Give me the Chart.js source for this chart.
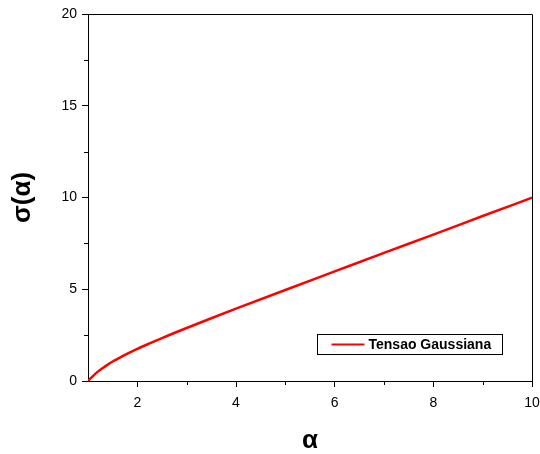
<!DOCTYPE html>
<html>
<head>
<meta charset="utf-8">
<script src="https://cdn.jsdelivr.net/npm/chart.js@4.4.1/dist/chart.umd.min.js"></script>
<style>
  html, body { margin: 0; padding: 0; background: #fff; }
  #wrap { width: 540px; height: 454px; position: relative; }
</style>
</head>
<body>
<div id="wrap"><canvas id="c" width="540" height="454"></canvas></div>
<script>
// Gaussian tension curve sigma(alpha)
const alphaValues = [1, 1.05, 1.1, 1.2, 1.3, 1.4, 1.5, 1.6, 1.8, 2, 2.25, 2.5, 3, 3.5, 4, 5, 6, 7, 8, 9, 10];
const sigmaValues = [0, 0.14, 0.27, 0.51, 0.71, 0.89, 1.06, 1.21, 1.49, 1.75, 2.05, 2.34, 2.89, 3.42, 3.94, 4.96, 5.97, 6.98, 7.98, 8.99, 9.99];
const seriesLabel = 'Tensao Gaussiana';
const xTitle = 'α';
const yTitle = 'σ(α)';
const xRange = [1, 10];
const yRange = [0, 20];

const FONT = '"Liberation Sans", Arial, sans-serif';

// Short minor ticks, top/right frame and an inset legend box
const decorations = {
  id: 'decorations',
  afterDraw(chart) {
    const { ctx, chartArea: a, scales: { x, y } } = chart;
    ctx.save();
    ctx.strokeStyle = '#000';
    ctx.lineWidth = 1;
    // frame
    ctx.beginPath();
    ctx.moveTo(a.left, a.top + 0.5);
    ctx.lineTo(a.right + 0.5, a.top + 0.5);
    ctx.lineTo(a.right + 0.5, a.bottom);
    ctx.stroke();
    // minor ticks
    ctx.beginPath();
    x.ticks.forEach(t => {
      if (t.value % 2 !== 0 && t.value !== xRange[0]) {
        const px = Math.round(x.getPixelForValue(t.value)) + 0.5;
        ctx.moveTo(px, a.bottom);
        ctx.lineTo(px, a.bottom + 4);
      }
    });
    y.ticks.forEach(t => {
      if (t.value % 5 !== 0) {
        const py = Math.round(y.getPixelForValue(t.value)) + 0.5;
        ctx.moveTo(a.left, py);
        ctx.lineTo(a.left - 4, py);
      }
    });
    ctx.stroke();

    // legend
    const ds = chart.data.datasets[0];
    const bx = 317.5, by = 334.5, bw = 185, bh = 20;
    ctx.strokeStyle = '#000';
    ctx.lineWidth = 1;
    ctx.fillStyle = '#fff';
    ctx.fillRect(bx, by, bw, bh);
    ctx.strokeRect(bx, by, bw, bh);
    ctx.strokeStyle = ds.borderColor;
    ctx.lineWidth = 2;
    ctx.beginPath();
    ctx.moveTo(bx + 14, by + 10);
    ctx.lineTo(bx + 47, by + 10);
    ctx.stroke();
    ctx.fillStyle = '#000';
    ctx.font = 'bold 14px ' + FONT;
    ctx.textBaseline = 'middle';
    ctx.textAlign = 'left';
    ctx.fillText(ds.label, bx + 51, by + 10.5);
    ctx.restore();
  }
};

new Chart(document.getElementById('c'), {
  type: 'line',
  data: {
    datasets: [{
      label: seriesLabel,
      data: alphaValues.map((a, i) => ({ x: a, y: sigmaValues[i] })),
      borderColor: '#ff0000',
      borderWidth: 2.5,
      pointRadius: 0,
      fill: false,
      cubicInterpolationMode: 'monotone'
    }]
  },
  options: {
    responsive: false,
    animation: false,
    layout: { padding: { top: 14, right: 8, left: 0, bottom: 0 } },
    plugins: { legend: { display: false }, tooltip: { enabled: false } },
    scales: {
      x: {
        type: 'linear',
        min: xRange[0], max: xRange[1],
        afterFit(s) { s.height = 73; s.paddingLeft = 0; s.paddingRight = 0; },
        border: { display: true, color: '#000', width: 1 },
        grid: {
          display: true, drawOnChartArea: false, drawTicks: true, tickLength: 6,
          tickColor: c => (c.tick && c.tick.value % 2 === 0) ? '#000' : 'rgba(0,0,0,0)'
        },
        ticks: {
          stepSize: 1, maxRotation: 0, autoSkip: false, padding: 8,
          color: '#000', font: { family: FONT, size: 14 },
          callback: v => (v % 2 === 0 ? String(v) : '')
        },
        title: {
          display: true, text: xTitle, color: '#000',
          font: { family: FONT, size: 26, weight: 'bold' },
          padding: { top: 0, bottom: -2 }
        }
      },
      y: {
        min: yRange[0], max: yRange[1],
        afterFit(s) { s.width = 88; s.paddingTop = 0; s.paddingBottom = 0; },
        border: { display: true, color: '#000', width: 1 },
        grid: {
          display: true, drawOnChartArea: false, drawTicks: true, tickLength: 6,
          tickColor: c => (c.tick && c.tick.value % 5 === 0) ? '#000' : 'rgba(0,0,0,0)'
        },
        ticks: {
          stepSize: 2.5, autoSkip: false, padding: 5,
          color: '#000', font: { family: FONT, size: 14 },
          callback: v => (v % 5 === 0 ? String(v) : '')
        },
        title: {
          display: true, text: yTitle, color: '#000',
          font: { family: FONT, size: 26, weight: 'bold' },
          padding: { top: 7, bottom: 0 }
        }
      }
    }
  },
  plugins: [decorations]
});
</script>
</body>
</html>
